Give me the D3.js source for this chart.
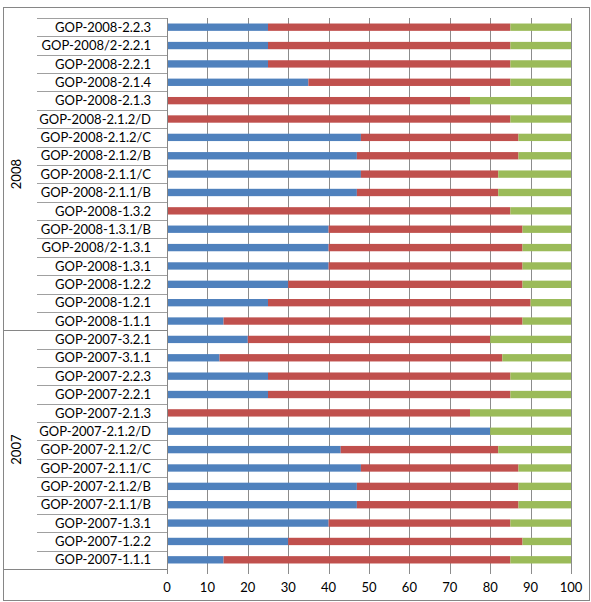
<!DOCTYPE html>
<html><head><meta charset="utf-8">
<script src="https://cdn.jsdelivr.net/npm/d3@7"></script>
<style>
html,body{margin:0;padding:0;background:#fff;}
svg{display:block;}
text{font-family:"Lato","Liberation Sans",sans-serif;fill:#000;}
</style></head>
<body><svg id="chart" width="591" height="602"></svg>
<script>
// Categories, top to bottom
const categories = [
  "GOP-2008-2.2.3","GOP-2008/2-2.2.1","GOP-2008-2.2.1","GOP-2008-2.1.4","GOP-2008-2.1.3",
  "GOP-2008-2.1.2/D","GOP-2008-2.1.2/C","GOP-2008-2.1.2/B","GOP-2008-2.1.1/C","GOP-2008-2.1.1/B",
  "GOP-2008-1.3.2","GOP-2008-1.3.1/B","GOP-2008/2-1.3.1","GOP-2008-1.3.1","GOP-2008-1.2.2",
  "GOP-2008-1.2.1","GOP-2008-1.1.1",
  "GOP-2007-3.2.1","GOP-2007-3.1.1","GOP-2007-2.2.3","GOP-2007-2.2.1","GOP-2007-2.1.3",
  "GOP-2007-2.1.2/D","GOP-2007-2.1.2/C","GOP-2007-2.1.1/C","GOP-2007-2.1.2/B","GOP-2007-2.1.1/B",
  "GOP-2007-1.3.1","GOP-2007-1.2.2","GOP-2007-1.1.1"
];
const groups = ["2008","2007"];
const groupSizes = [17, 13];
// Series values (segment lengths, each row sums to 100)
const series1 = [25,25,25,35,0, 0,48,47,48,47, 0,40,40,40,30, 25,14,
                 20,13,25,25,0, 80,43,48,47,47, 40,30,14];
const series2 = [60,60,60,50,75, 85,39,40,34,35, 85,48,48,48,58, 65,74,
                 60,70,60,60,75, 0,39,39,40,40, 45,58,71];
const series3 = [15,15,15,15,25, 15,13,13,18,18, 15,12,12,12,12, 10,12,
                 20,17,15,15,25, 20,18,13,13,13, 15,12,15];
const xTicks = [0,10,20,30,40,50,60,70,80,90,100];
const colors = ["#4F81BD","#C0504D","#9BBB59"];

const svg = d3.select("#chart");
const pLeft = 167, pRight = 571, pTop = 18, pBottom = 569;
const x = d3.scaleLinear().domain([0,100]).range([pLeft,pRight]);
const y = d3.scaleBand().domain(categories).range([pTop,pBottom]).paddingInner(0.6).paddingOuter(0.3);

// outer border
svg.append("rect").attr("x",3.5).attr("y",7.5).attr("width",586).attr("height",593)
  .attr("fill","none").attr("stroke","#868686").attr("stroke-width",1);

// gridlines + ticks
svg.append("g").selectAll("line").data(xTicks).join("line")
  .attr("x1",d=>Math.round(x(d))+0.5).attr("x2",d=>Math.round(x(d))+0.5)
  .attr("y1",pTop).attr("y2",pBottom+5)
  .attr("stroke","#8c8c8c").attr("stroke-width",1);

// stacked bars
const stackData = categories.map((c,i)=>({cat:c, s1:series1[i], s2:series2[i], s3:series3[i]}));
const stacked = d3.stack().keys(["s1","s2","s3"])(stackData);
svg.append("g").selectAll("g").data(stacked).join("g")
  .attr("fill",(d,i)=>colors[i])
  .selectAll("rect").data(d=>d).join("rect")
  .attr("x",d=>x(d[0])).attr("width",d=>x(d[1])-x(d[0]))
  .attr("y",d=>y(d.data.cat)).attr("height",y.bandwidth());

// category separators
const step = y.step();
const sepG = svg.append("g").attr("stroke-width",1);
let idx = 0;
const groupBounds = [];
groupSizes.forEach((n,gi)=>{
  const startY = pTop + idx*step;
  for(let k=0;k<n;k++){
    const yy = Math.round(pTop + (idx+k)*step)+0.5;
    const isGroupStart = (k===0 && gi>0);
    sepG.append("line").attr("x1",isGroupStart?3:37).attr("x2",pLeft).attr("y1",yy).attr("y2",yy)
      .attr("stroke",isGroupStart?"#868686":"#a0a0a0");
  }
  idx += n;
  groupBounds.push([startY, pTop+idx*step]);
});
svg.append("line").attr("x1",3).attr("x2",pLeft).attr("y1",pBottom+0.5).attr("y2",pBottom+0.5)
  .attr("stroke","#868686");
// y axis line
svg.append("line").attr("x1",pLeft+0.5).attr("x2",pLeft+0.5).attr("y1",pTop).attr("y2",pBottom+5)
  .attr("stroke","#868686");

// category labels
svg.append("g").selectAll("text").data(categories).join("text")
  .attr("x",151).attr("y",d=>y(d)+y.bandwidth()/2).attr("dy","0.36em")
  .attr("text-anchor","end").attr("font-size","13px").text(d=>d);

// group labels
svg.append("g").selectAll("text").data(groups).join("text")
  .attr("transform",(d,i)=>`translate(21,${(groupBounds[i][0]+groupBounds[i][1])/2}) rotate(-90)`)
  .attr("text-anchor","middle").attr("font-size","13px").text(d=>d);

// x tick labels
svg.append("g").selectAll("text").data(xTicks).join("text")
  .attr("x",d=>x(d)).attr("y",592).attr("text-anchor","middle").attr("font-size","13px").text(d=>d);
</script></body></html>
